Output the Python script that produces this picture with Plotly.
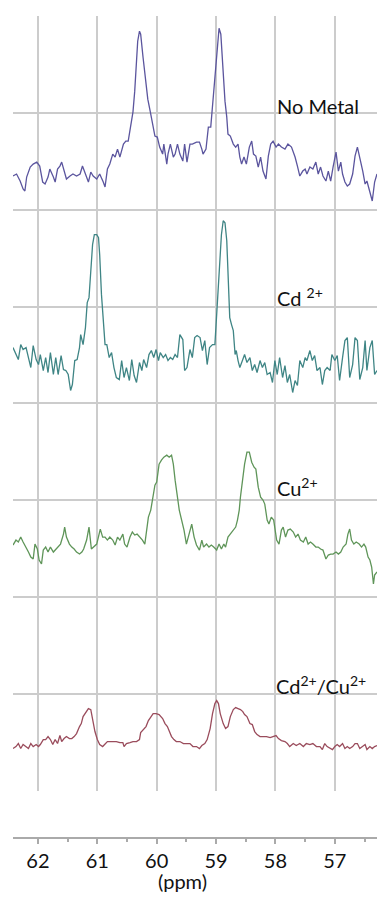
import plotly.graph_objects as go

# ---------------- data (ppm, intensity a.u.) ----------------
nometal_ppm = [62.42, 62.36, 62.30, 62.25, 62.22, 62.19, 62.13, 62.08, 62.02, 61.97,
               61.92, 61.88, 61.83, 61.80, 61.74, 61.71, 61.67, 61.63, 61.60, 61.56,
               61.52, 61.46, 61.41, 61.35, 61.29, 61.25, 61.21, 61.15, 61.11, 61.07,
               61.01, 60.96, 60.90, 60.87, 60.83, 60.79, 60.74, 60.70, 60.66, 60.62,
               60.56, 60.52, 60.48, 60.44, 60.40, 60.37, 60.34, 60.32, 60.29, 60.27,
               60.23, 60.19, 60.15, 60.11, 60.07, 60.03, 59.99, 59.95, 59.90, 59.88,
               59.83, 59.81, 59.77, 59.72, 59.69, 59.65, 59.61, 59.56, 59.53, 59.49,
               59.44, 59.40, 59.33, 59.28, 59.24, 59.22, 59.17, 59.13, 59.09, 59.05,
               59.00, 58.97, 58.95, 58.92, 58.89, 58.85, 58.82, 58.80, 58.76, 58.71,
               58.67, 58.63, 58.60, 58.57, 58.53, 58.49, 58.44, 58.40, 58.37, 58.33,
               58.29, 58.25, 58.21, 58.16, 58.12, 58.08, 58.04, 57.99, 57.95, 57.90,
               57.84, 57.79, 57.73, 57.67, 57.63, 57.59, 57.54, 57.50, 57.47, 57.42,
               57.37, 57.32, 57.28, 57.24, 57.20, 57.15, 57.11, 57.07, 57.03, 56.98,
               56.94, 56.90, 56.87, 56.83, 56.79, 56.75, 56.70, 56.66, 56.62, 56.58,
               56.53, 56.49, 56.46, 56.41, 56.37, 56.33, 56.29]
nometal_int = [34, 36, 29, 21, 19, 33, 43, 46, 48, 44,
               28, 26, 33, 41, 33, 28, 41, 44, 48, 39,
               31, 34, 36, 34, 36, 44, 38, 28, 38, 34,
               31, 36, 28, 23, 41, 46, 56, 53, 61, 53,
               66, 69, 69, 83, 98, 119, 149, 169, 179, 176,
               153, 129, 111, 99, 86, 74, 73, 63, 56, 66,
               46, 56, 66, 53, 56, 66, 56, 49, 66, 48,
               66, 66, 68, 68, 61, 56, 61, 83, 83, 109,
               143, 169, 182, 176, 143, 109, 93, 76, 74, 66,
               63, 66, 53, 46, 53, 46, 63, 69, 56, 54,
               43, 53, 39, 31, 54, 66, 69, 63, 66, 63,
               61, 66, 63, 53, 44, 34, 39, 41, 36, 43,
               41, 48, 36, 43, 34, 29, 39, 29, 43, 58,
               39, 48, 36, 28, 24, 26, 36, 54, 63, 53,
               39, 26, 29, 18, 9, 28, 36]

cd_ppm = [62.42, 62.37, 62.33, 62.29, 62.25, 62.20, 62.16, 62.12, 62.08, 62.03,
          61.99, 61.96, 61.91, 61.87, 61.83, 61.79, 61.74, 61.70, 61.66, 61.61,
          61.57, 61.53, 61.49, 61.45, 61.42, 61.38, 61.34, 61.30, 61.28, 61.24,
          61.20, 61.17, 61.14, 61.11, 61.08, 61.05, 61.01, 60.98, 60.96, 60.93,
          60.90, 60.87, 60.84, 60.80, 60.76, 60.72, 60.68, 60.63, 60.59, 60.55,
          60.51, 60.46, 60.42, 60.38, 60.34, 60.29, 60.25, 60.22, 60.17, 60.13,
          60.09, 60.05, 60.01, 59.97, 59.94, 59.89, 59.85, 59.81, 59.77, 59.73,
          59.69, 59.65, 59.61, 59.56, 59.53, 59.49, 59.44, 59.40, 59.36, 59.32,
          59.27, 59.23, 59.19, 59.15, 59.11, 59.06, 59.02, 58.98, 58.95, 58.91,
          58.88, 58.85, 58.82, 58.80, 58.77, 58.74, 58.71, 58.68, 58.66, 58.63,
          58.60, 58.55, 58.52, 58.48, 58.43, 58.39, 58.35, 58.31, 58.26, 58.22,
          58.18, 58.14, 58.09, 58.05, 58.01, 57.97, 57.93, 57.88, 57.84, 57.80,
          57.76, 57.71, 57.67, 57.63, 57.59, 57.54, 57.50, 57.47, 57.42, 57.38,
          57.34, 57.30, 57.25, 57.21, 57.17, 57.13, 57.08, 57.05, 57.00, 56.96,
          56.92, 56.87, 56.83, 56.79, 56.75, 56.70, 56.66, 56.62, 56.58, 56.53,
          56.49, 56.46, 56.41, 56.37, 56.33, 56.29]
cd_int = [56, 49, 44, 59, 54, 56, 46, 36, 58, 44,
          39, 49, 33, 46, 31, 51, 29, 46, 29, 48,
          34, 33, 29, 13, 19, 43, 44, 56, 69, 59,
          76, 101, 106, 133, 159, 169, 169, 166, 149, 109,
          79, 59, 59, 46, 51, 36, 26, 24, 43, 26,
          36, 23, 44, 28, 21, 41, 33, 44, 36, 49,
          53, 46, 54, 43, 51, 46, 49, 43, 46, 44,
          49, 46, 69, 64, 33, 36, 54, 46, 66, 68,
          66, 53, 63, 39, 56, 59, 59, 96, 126, 169,
          183, 181, 163, 123, 86, 79, 73, 49, 53, 43,
          36, 44, 49, 41, 46, 33, 39, 31, 43, 36,
          41, 29, 31, 21, 43, 29, 46, 26, 38, 21,
          29, 11, 23, 18, 43, 36, 46, 43, 53, 43,
          48, 33, 36, 19, 33, 36, 33, 49, 43, 48,
          23, 46, 63, 66, 26, 39, 66, 63, 24, 36,
          63, 33, 56, 63, 29, 33]

cu_ppm = [62.42, 62.37, 62.33, 62.29, 62.25, 62.20, 62.16, 62.12, 62.08, 62.05,
          62.01, 61.98, 61.94, 61.91, 61.87, 61.83, 61.79, 61.74, 61.70, 61.66,
          61.62, 61.57, 61.55, 61.52, 61.47, 61.43, 61.39, 61.35, 61.30, 61.26,
          61.23, 61.18, 61.14, 61.10, 61.06, 61.01, 60.97, 60.95, 60.91, 60.87,
          60.83, 60.79, 60.74, 60.70, 60.66, 60.62, 60.57, 60.54, 60.50, 60.45,
          60.41, 60.37, 60.33, 60.28, 60.24, 60.20, 60.17, 60.14, 60.10, 60.07,
          60.03, 60.00, 59.96, 59.92, 59.88, 59.83, 59.79, 59.75, 59.72, 59.69,
          59.65, 59.62, 59.58, 59.54, 59.50, 59.45, 59.41, 59.37, 59.33, 59.28,
          59.24, 59.21, 59.16, 59.12, 59.08, 59.04, 58.99, 58.95, 58.91, 58.87,
          58.84, 58.80, 58.76, 58.71, 58.67, 58.64, 58.61, 58.59, 58.55, 58.52,
          58.48, 58.44, 58.40, 58.36, 58.33, 58.29, 58.25, 58.21, 58.18, 58.14,
          58.11, 58.07, 58.03, 57.98, 57.94, 57.90, 57.87, 57.83, 57.79, 57.75,
          57.70, 57.66, 57.62, 57.58, 57.53, 57.49, 57.45, 57.41, 57.37, 57.32,
          57.28, 57.24, 57.20, 57.15, 57.11, 57.07, 57.03, 56.98, 56.94, 56.90,
          56.86, 56.81, 56.78, 56.75, 56.72, 56.68, 56.64, 56.59, 56.55, 56.51,
          56.48, 56.44, 56.41, 56.38, 56.35, 56.33, 56.29]
cu_int = [52, 57, 55, 60, 55, 50, 45, 40, 38, 53,
          48, 37, 33, 47, 50, 45, 50, 45, 48, 50,
          53, 63, 70, 60, 53, 50, 48, 45, 43, 45,
          48, 57, 70, 48, 50, 53, 63, 68, 60, 60,
          57, 60, 57, 52, 60, 57, 63, 53, 50, 60,
          65, 62, 63, 60, 57, 53, 70, 80, 87, 97,
          112, 115, 133, 137, 140, 142, 140, 142, 133, 117,
          97, 87, 77, 67, 53, 63, 73, 60, 52, 47,
          57, 50, 53, 50, 52, 50, 47, 53, 48, 53,
          50, 60, 63, 67, 70, 77, 87, 100, 120, 133,
          145, 145, 135, 130, 128, 110, 100, 97, 93, 77,
          73, 80, 77, 57, 53, 67, 70, 60, 67, 68,
          65, 60, 63, 57, 55, 60, 53, 55, 53, 50,
          50, 48, 47, 38, 42, 43, 43, 45, 43, 45,
          50, 53, 63, 68, 57, 53, 55, 53, 50, 53,
          50, 40, 37, 30, 13, 22, 25]

cdcu_ppm = [62.42, 62.37, 62.33, 62.29, 62.25, 62.20, 62.16, 62.12, 62.08, 62.03,
            61.99, 61.96, 61.91, 61.87, 61.83, 61.79, 61.75, 61.71, 61.67, 61.63,
            61.60, 61.56, 61.52, 61.47, 61.43, 61.39, 61.35, 61.30, 61.27, 61.24,
            61.19, 61.15, 61.11, 61.08, 61.04, 61.00, 60.96, 60.91, 60.87, 60.83,
            60.79, 60.73, 60.68, 60.62, 60.57, 60.55, 60.51, 60.45, 60.40, 60.34,
            60.29, 60.27, 60.23, 60.18, 60.14, 60.10, 60.06, 60.01, 59.96, 59.90,
            59.86, 59.82, 59.79, 59.75, 59.71, 59.67, 59.61, 59.55, 59.50, 59.44,
            59.39, 59.33, 59.28, 59.24, 59.19, 59.15, 59.10, 59.06, 59.02, 58.99,
            58.96, 58.93, 58.88, 58.84, 58.80, 58.76, 58.71, 58.67, 58.63, 58.59,
            58.55, 58.52, 58.48, 58.43, 58.39, 58.35, 58.31, 58.26, 58.21, 58.15,
            58.09, 58.04, 57.99, 57.95, 57.90, 57.84, 57.80, 57.76, 57.70, 57.65,
            57.59, 57.53, 57.48, 57.42, 57.37, 57.31, 57.25, 57.21, 57.17, 57.13,
            57.08, 57.04, 57.00, 56.96, 56.92, 56.87, 56.83, 56.79, 56.75, 56.70,
            56.66, 56.62, 56.58, 56.53, 56.49, 56.46, 56.41, 56.37, 56.33, 56.29]
cdcu_int = [42, 44, 47, 42, 46, 44, 42, 47, 44, 46,
            44, 46, 51, 51, 54, 51, 46, 51, 47, 55,
            49, 52, 54, 52, 52, 54, 57, 64, 67, 74,
            79, 82, 81, 71, 59, 51, 46, 44, 47, 49,
            49, 49, 49, 48, 48, 44, 47, 48, 49, 49,
            51, 58, 61, 64, 70, 74, 77, 77, 76, 72,
            67, 64, 59, 54, 51, 49, 49, 47, 47, 47,
            44, 44, 42, 45, 47, 51, 62, 77, 87, 90,
            87, 77, 67, 62, 64, 74, 81, 83, 82, 81,
            79, 76, 74, 67, 66, 59, 56, 54, 54, 54,
            53, 54, 55, 52, 50, 49, 47, 44, 47, 45,
            47, 44, 47, 46, 47, 44, 44, 41, 47, 44,
            42, 41, 44, 46, 44, 47, 42, 44, 42, 44,
            47, 47, 42, 44, 46, 41, 44, 42, 44, 45]

series_names = ["No Metal", "Cd <sup>2+</sup>", "Cu<sup>2+</sup>", "Cd<sup>2+</sup>/Cu<sup>2+</sup>"]
series_ppm = [nometal_ppm, cd_ppm, cu_ppm, cdcu_ppm]
series_int = [nometal_int, cd_int, cu_int, cdcu_int]
series_colors = ["#5b559e", "#3f8585", "#5f9559", "#9a4c5c"]

x_ticks = [62, 61, 60, 59, 58, 57]
x_minor = [62.5, 61.5, 60.5, 59.5, 58.5, 57.5, 56.5]

# ---------------- layout helpers ----------------
GRID = 96.875          # intensity units per horizontal grid cell
PANEL = 2 * GRID       # each spectrum occupies two grid cells
offsets = [3 * PANEL, 2 * PANEL, 1 * PANEL, 0]

label_pos = [(58.01, 685), (58.00, 494), (58.00, 304), (58.02, 106)]
FONT = "Lato"

fig = go.Figure()
for name, xs, ys, col, off in zip(series_names, series_ppm, series_int, series_colors, offsets):
    assert len(xs) == len(ys), name
    fig.add_trace(go.Scatter(
        x=xs, y=[v + off for v in ys], mode="lines",
        line=dict(color=col, width=1.3), showlegend=False, hoverinfo="skip"))

for name, (lx, ly) in zip(series_names, label_pos):
    fig.add_annotation(x=lx, y=ly, xref="x", yref="y", text=name, showarrow=False,
                       xanchor="left", yanchor="middle",
                       font=dict(family=FONT, size=20, color="#111111"))

fig.add_annotation(x=59.57, y=0, xref="x", yref="paper", yshift=-43,
                   text="(ppm)", showarrow=False, xanchor="center", yanchor="middle",
                   font=dict(family=FONT, size=20, color="#111111"))

fig.update_layout(
    width=377, height=899,
    margin=dict(l=13, r=0, t=16, b=61),
    paper_bgcolor="white", plot_bgcolor="white",
    xaxis=dict(range=[62.42, 56.29], domain=[0, 1], anchor="free", position=0,
               tickmode="array", tickvals=x_ticks, ticktext=[str(t) for t in x_ticks],
               showgrid=True, gridcolor="#cccccc", gridwidth=1.5,
               showline=True, linecolor="#aaaaaa", linewidth=2,
               ticks="outside", ticklen=5, tickwidth=1.5, tickcolor="#aaaaaa",
               tickfont=dict(family=FONT, size=20, color="#111111"),
               minor=dict(tickvals=x_minor, ticks="outside", ticklen=3, tickwidth=1.5,
                          tickcolor="#aaaaaa", showgrid=False),
               zeroline=False, fixedrange=True),
    yaxis=dict(range=[-0.5, 775.5], domain=[0.0572, 1],
               tickmode="linear", tick0=0, dtick=GRID,
               showgrid=True, gridcolor="#cccccc", gridwidth=1.5,
               showticklabels=False, zeroline=False, showline=False, ticks="",
               fixedrange=True),
)

fig.write_html("out.html")
